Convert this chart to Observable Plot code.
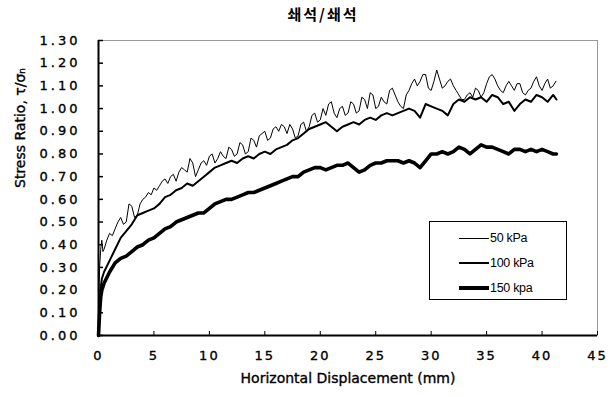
<!DOCTYPE html>
<html><head><meta charset="utf-8">
<script src="https://cdn.jsdelivr.net/npm/d3@7"></script>
<script src="https://cdn.jsdelivr.net/npm/@observablehq/plot@0.6"></script>
<style>
body{margin:0;background:#fff;width:612px;height:397px;position:relative;overflow:hidden;font-family:"DejaVu Sans",sans-serif}
#title{height:30px;width:612px;position:relative}
#title span{position:absolute;left:323px;top:5px;transform:translateX(-50%);font-family:"Noto Sans CJK KR";font-weight:bold;font-size:15px;letter-spacing:2px;white-space:nowrap;line-height:18px}
#legend{position:absolute;left:429px;top:221px;width:136px;height:77px;border:1px solid #000;background:#fff;font-family:"Liberation Sans",Arial,sans-serif;font-size:12.5px}
#legend .row{position:absolute;left:29px;height:0}
#legend .ln{position:absolute;left:0;width:30px;background:#000}
#legend .tx{position:absolute;left:31px;top:-8px;line-height:16px;white-space:nowrap;letter-spacing:-0.3px}
g[aria-label="y-axis tick label"] text{letter-spacing:3px}
g[aria-label="x-axis tick label"] text{letter-spacing:2px}
svg text{stroke:#000;stroke-width:0.35px}
</style></head>
<body>
<div id="title"><span></span></div>
<div id="chart"></div>
<div id="legend"></div>
<script>
const titleText = "쇄석/쇄석";
const xLabel = "Horizontal Displacement (mm)";
const yLabel = "Stress Ratio, τ/σₙ";
const seriesNames = ["50 kPa", "100 kPa", "150 kpa"];
const xTicks = [0,5,10,15,20,25,30,35,40,45];
const yTicks = [0,0.1,0.2,0.3,0.4,0.5,0.6,0.7,0.8,0.9,1.0,1.1,1.2,1.3];

// 50 kPa (finer sampling)
const disp50 = [0,0.05,0.1,0.2,0.3,0.4,0.5,0.75,1.0,1.25,1.5,1.75,2.0,2.25,2.5,2.75,3.0,3.25,3.5,3.75,4.0,4.25,4.5,4.75,5.0,5.25,5.5,5.75,6.0,6.25,6.5,6.75,7.0,7.25,7.5,7.75,8.0,8.25,8.5,8.75,9.0,9.25,9.5,9.75,10.0,10.25,10.5,10.75,11.0,11.25,11.5,11.75,12.0,12.25,12.5,12.75,13.0,13.25,13.5,13.75,14.0,14.25,14.5,14.75,15.0,15.25,15.5,15.75,16.0,16.25,16.5,16.75,17.0,17.25,17.5,17.75,18.0,18.25,18.5,18.75,19.0,19.25,19.5,19.75,20.0,20.25,20.5,20.75,21.0,21.25,21.5,21.75,22.0,22.25,22.5,22.75,23.0,23.25,23.5,23.75,24.0,24.25,24.5,24.75,25.0,25.25,25.5,25.75,26.0,26.25,26.5,26.75,27.0,27.25,27.5,27.75,28.0,28.25,28.5,28.75,29.0,29.25,29.5,29.75,30.0,30.25,30.5,30.75,31.0,31.25,31.5,31.75,32.0,32.25,32.5,32.75,33.0,33.25,33.5,33.75,34.0,34.25,34.5,34.75,35.0,35.25,35.5,35.75,36.0,36.25,36.5,36.75,37.0,37.25,37.5,37.75,38.0,38.25,38.5,38.75,39.0,39.25,39.5,39.75,40.0,40.25,40.5,40.75,41.0,41.25];
const ratio50 = [0.00,0.20,0.30,0.38,0.42,0.37,0.38,0.42,0.45,0.44,0.47,0.50,0.52,0.49,0.50,0.58,0.57,0.52,0.53,0.58,0.60,0.61,0.63,0.62,0.65,0.64,0.66,0.68,0.69,0.67,0.70,0.71,0.68,0.72,0.74,0.73,0.72,0.78,0.76,0.70,0.73,0.76,0.77,0.75,0.79,0.80,0.76,0.78,0.81,0.79,0.78,0.83,0.82,0.79,0.80,0.85,0.84,0.80,0.81,0.87,0.86,0.83,0.88,0.89,0.90,0.86,0.87,0.91,0.92,0.90,0.93,0.92,0.89,0.93,0.91,0.87,0.88,0.93,0.94,0.90,0.92,0.97,0.98,0.94,0.95,1.00,0.97,1.02,1.03,0.98,0.96,1.00,1.01,0.97,0.98,1.03,1.02,0.98,0.99,1.05,1.04,1.00,1.07,1.06,1.00,1.01,1.05,1.03,1.02,1.08,1.09,1.06,1.03,1.01,1.00,1.06,1.08,1.11,1.13,1.10,1.12,1.15,1.15,1.09,1.08,1.12,1.17,1.13,1.09,1.10,1.12,1.13,1.10,1.08,1.06,1.04,1.04,1.06,1.07,1.05,1.09,1.08,1.05,1.07,1.11,1.14,1.15,1.13,1.10,1.08,1.07,1.10,1.12,1.10,1.08,1.11,1.11,1.07,1.06,1.08,1.09,1.12,1.14,1.10,1.08,1.11,1.13,1.09,1.10,1.12];

// 100 kPa and 150 kPa
const disp = [0,0.1,0.2,0.3,0.5,1.0,1.5,2.0,2.5,3.0,3.5,4.0,4.5,5.0,5.5,6.0,6.5,7.0,7.5,8.0,8.5,9.0,9.5,10.0,10.5,11.0,11.5,12.0,12.5,13.0,13.5,14.0,14.5,15.0,15.5,16.0,16.5,17.0,17.5,18.0,18.5,19.0,19.5,20.0,20.5,21.0,21.5,22.0,22.5,23.0,23.5,24.0,24.5,25.0,25.5,26.0,26.5,27.0,27.5,28.0,28.5,29.0,29.5,30.0,30.5,31.0,31.5,32.0,32.5,33.0,33.5,34.0,34.5,35.0,35.5,36.0,36.5,37.0,37.5,38.0,38.5,39.0,39.5,40.0,40.5,41.0,41.3];
const ratio100 = [0.00,0.15,0.21,0.25,0.28,0.33,0.38,0.43,0.46,0.49,0.53,0.54,0.55,0.56,0.58,0.61,0.62,0.64,0.65,0.67,0.66,0.68,0.70,0.72,0.74,0.75,0.76,0.77,0.76,0.78,0.79,0.78,0.80,0.81,0.80,0.82,0.83,0.84,0.86,0.87,0.89,0.91,0.92,0.93,0.94,0.92,0.90,0.92,0.93,0.94,0.93,0.95,0.96,0.95,0.97,0.98,0.97,0.98,0.99,1.00,0.99,0.96,1.02,1.01,1.00,0.99,0.97,1.02,1.04,1.03,1.05,1.04,1.05,1.03,1.06,1.05,1.02,1.03,0.99,1.02,1.04,1.03,1.06,1.05,1.03,1.06,1.04];
const ratio150 = [0.00,0.10,0.17,0.20,0.23,0.28,0.32,0.34,0.35,0.37,0.39,0.40,0.42,0.43,0.45,0.47,0.48,0.50,0.51,0.52,0.53,0.54,0.54,0.56,0.58,0.59,0.60,0.60,0.61,0.62,0.63,0.63,0.64,0.65,0.66,0.67,0.68,0.69,0.70,0.70,0.72,0.73,0.74,0.74,0.73,0.74,0.75,0.75,0.76,0.74,0.72,0.73,0.75,0.76,0.76,0.77,0.77,0.77,0.76,0.77,0.76,0.74,0.77,0.80,0.80,0.81,0.80,0.81,0.83,0.82,0.80,0.82,0.84,0.83,0.83,0.82,0.81,0.80,0.82,0.82,0.81,0.82,0.81,0.82,0.81,0.80,0.80];

const widths = [1, 2, 3.6];
const seriesX = [disp50, disp, disp];
const allRatios = [ratio50, ratio100, ratio150];

document.querySelector("#title span").textContent = titleText;

const lineMarks = allRatios.map((r, i) =>
  Plot.line(seriesX[i].map((d, j) => ({d, v: r[j]})), {x: "d", y: "v", stroke: "#000", strokeWidth: widths[i], strokeLinejoin: "round", strokeLinecap: "round"})
);

const chart = Plot.plot({
  width: 612,
  height: 367,
  marginLeft: 98,
  marginRight: 15,
  marginTop: 10,
  marginBottom: 62,
  style: {fontFamily: "'DejaVu Sans', sans-serif", fontSize: "13px", color: "#000", background: "#fff", overflow: "visible"},
  x: {domain: [0, 45]},
  y: {domain: [0, 1.3]},
  marks: [
    Plot.frame({stroke: "#999", strokeWidth: 1}),
    Plot.axisX({ticks: xTicks, tickSize: -4, text: null, label: null, strokeWidth: 1}),
    Plot.axisX({ticks: xTicks, tickSize: 0, tickPadding: 15, tickFormat: d => String(d), label: null, fontSize: 13}),
    Plot.axisY({ticks: yTicks, tickSize: -5, text: null, label: null, strokeWidth: 1.5}),
    Plot.axisY({ticks: yTicks, tickSize: 0, tickPadding: 18, tickFormat: d => d.toFixed(2), label: null, fontSize: 13}),
    ...lineMarks,
    Plot.ruleY([0], {stroke: "#000", strokeWidth: 2}),
    Plot.ruleX([0], {stroke: "#000", strokeWidth: 2}),
    Plot.text([yLabel], {frameAnchor: "left", dx: -78, rotate: -90, fontSize: 14, fill: "#000"}),
    Plot.text([xLabel], {frameAnchor: "bottom", dy: 47, fontSize: 14, fill: "#000"})
  ]
});
document.getElementById("chart").appendChild(chart);

const legend = document.getElementById("legend");
const rowTops = [16, 41, 66];
seriesNames.forEach((name, i) => {
  const row = document.createElement("div");
  row.className = "row";
  row.style.top = rowTops[i] + "px";
  const ln = document.createElement("div");
  ln.className = "ln";
  ln.style.height = widths[i] + "px";
  ln.style.top = (-widths[i] / 2) + "px";
  const tx = document.createElement("span");
  tx.className = "tx";
  tx.textContent = name;
  row.appendChild(ln);
  row.appendChild(tx);
  legend.appendChild(row);
});
</script>
</body></html>
